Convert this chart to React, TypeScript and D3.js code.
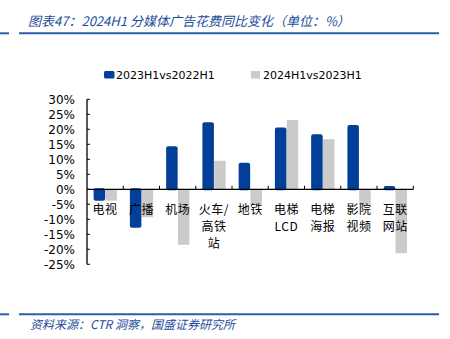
import React from "react";
import * as d3 from "d3";

const categories = ["电视", "广播", "机场", "火车/\n高铁\n站", "地铁", "电梯\nLCD", "电梯\n海报", "影院\n视频", "互联\n网站"];
const series1 = [-3.5, -12.5, 14, 22, 8.5, 20.3, 18, 21.1, 0.8];
const series2 = [-3.8, -9.3, -18.5, 9.5, -5.2, 23.1, 16.7, -5.2, -21.3];
const seriesNames = ["2023H1vs2022H1", "2024H1vs2023H1"];
const yTicks = [30, 25, 20, 15, 10, 5, 0, -5, -10, -15, -20, -25];

const BLUE = "#013F98";
const GRAY = "#CBCBCB";
const LINE = "#2C5DAA";
const TEXTBLUE = "#1E4C9C";

export default function App() {
  const W = 450, H = 339;
  const x0 = 87, x1 = 413.3;
  const y = d3.scaleLinear().domain([-25, 30]).range([264.3, 99.3]);
  const x = d3.scaleBand<number>().domain(d3.range(categories.length)).range([x0, x1]);
  const bw = 11.5;
  const zero = y(0);
  const cjk = "'Noto Sans CJK SC', sans-serif";
  return (
    <svg width={W} height={H} style={{ position: "absolute", left: 0, top: 0 }}>
      <rect width={W} height={H} fill="#fff" />
      {/* header */}
      <line x1={0} x2={9} y1={33.3} y2={33.3} stroke={LINE} strokeWidth={2} />
      <line x1={19} x2={439} y1={33.3} y2={33.3} stroke={LINE} strokeWidth={2} />
      <text x={28} y={26} fontFamily={cjk} fontSize={13} fontStyle="italic" fill={TEXTBLUE}>
        图表47：2024H1 分媒体广告花费同比变化（单位：%）
      </text>
      {/* legend */}
      <rect x={104} y={71} width={10.5} height={7.5} rx={1.5} fill={BLUE} />
      <text x={116} y={79} fontFamily="'DejaVu Sans', sans-serif" fontSize={11} fill="#000">{seriesNames[0]}</text>
      <rect x={251} y={71} width={9} height={7.5} fill={GRAY} />
      <text x={263} y={79} fontFamily="'DejaVu Sans', sans-serif" fontSize={11} fill="#000">{seriesNames[1]}</text>
      {/* bars */}
      {categories.map((c, i) => {
        const cx = (x(i) as number) + x.bandwidth() / 2;
        const v1 = series1[i], v2 = series2[i];
        const t1 = Math.min(y(v1), zero), b1 = Math.max(y(v1), zero);
        const t2 = Math.min(y(v2), zero), b2 = Math.max(y(v2), zero);
        return (
          <g key={i}>
            <rect x={cx + 0.3} y={t2} width={bw} height={b2 - t2} fill={GRAY} />
            <rect x={cx - bw} y={t1 - 1} width={bw} height={b1 - t1 + 2} rx={2} fill={BLUE} />
          </g>
        );
      })}
      {/* y axis */}
      <line x1={x0} x2={x0} y1={y(30)} y2={y(-25)} stroke="#000" strokeWidth={1.3} />
      {yTicks.map((t) => (
        <g key={t}>
          <line x1={x0} x2={x0 + 3} y1={y(t)} y2={y(t)} stroke="#000" strokeWidth={1} />
          <text x={75} y={y(t) + 4.5} textAnchor="end" fontFamily="'DejaVu Sans', sans-serif" fontSize={12} fill="#000">
            {t}%
          </text>
        </g>
      ))}
      {/* x axis */}
      <line x1={x0} x2={x1} y1={zero} y2={zero} stroke="#000" strokeWidth={1.3} />
      {categories.map((c, i) => {
        const bx = (x(i) as number) + x.bandwidth();
        return <line key={i} x1={bx} x2={bx} y1={zero} y2={zero - 3.5} stroke="#000" strokeWidth={1} />;
      })}
      {categories.map((c, i) => {
        const cx = (x(i) as number) + x.bandwidth() / 2;
        return (
          <text key={i} x={cx} textAnchor="middle" fontFamily={cjk} fontSize={12} fill="#000" letterSpacing={0.5}>
            {c.split("\n").map((ln, j) => (
              <tspan key={j} x={cx} y={213.5 + j * 17}>{ln}</tspan>
            ))}
          </text>
        );
      })}
      {/* footer */}
      <line x1={0} x2={9} y1={314.3} y2={314.3} stroke={LINE} strokeWidth={2} />
      <line x1={19} x2={439} y1={314.3} y2={314.3} stroke={LINE} strokeWidth={2} />
      <text x={30} y={329} fontFamily={cjk} fontSize={12} fontStyle="italic" fill={TEXTBLUE}>
        资料来源：CTR 洞察，国盛证券研究所
      </text>
    </svg>
  );
}
